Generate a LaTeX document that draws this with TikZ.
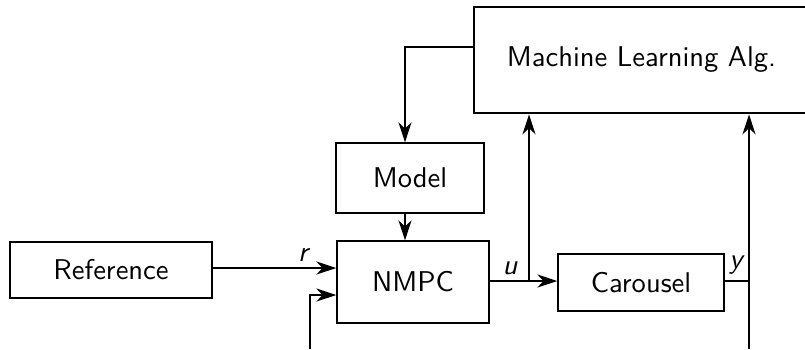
\documentclass[tikz,border=0pt]{standalone}
\usetikzlibrary{arrows.meta}
\renewcommand{\familydefault}{\sfdefault}
\begin{document}
\begin{tikzpicture}[x=0.35pt,y=-0.35pt,
  block/.style={draw,line width=0.5pt,rectangle,inner sep=0pt,font=\sffamily},
  sig/.style={line width=0.5pt,-{Stealth[length=7pt,width=4.6pt,inset=2.2pt]}},
  wire/.style={line width=0.5pt},
  lbl/.style={font=\sffamily\itshape,inner sep=0pt}]
\useasboundingbox (0,0) rectangle (805,349);

% blocks
\node[block,minimum width=202*0.35pt,minimum height=56*0.35pt] (ref) at (111,270) {Reference};
\node[block,minimum width=152*0.35pt,minimum height=82*0.35pt] (nmpc) at (413,282) {NMPC};
\node[block,minimum width=148*0.35pt,minimum height=70*0.35pt] (model) at (410,178) {Model};
\node[block,minimum width=166*0.35pt,minimum height=57*0.35pt] (car) at (641,282.5) {Carousel};
\node[block,line width=1pt,minimum width=340*0.35pt,minimum height=106*0.35pt] (ml) at (644,60) {};
\node[font=\sffamily] (mltext) at (641.5,60) {Machine Learning Alg.};

% junction and free-end points
\coordinate (uj) at (529,281);
\coordinate (yj) at (749,281);
\coordinate (ybot) at (749,349);
\coordinate (fbot) at (310,349);
\coordinate (fcorner) at (310,295);
\coordinate (mlcorner) at (405,47);

% reference to controller
\draw[sig] (ref.east |- 0,268) -- (nmpc.west |- 0,268);
\node[lbl] at (303,255) {r};

% measured feedback into controller
\draw[sig] (fbot) -- (fcorner) -- (nmpc.west |- fcorner);

% model into controller
\draw[sig] (model.south -| 405,0) -- (nmpc.north -| 405,0);

% learning algorithm updates the model
\draw[sig] (ml.west |- mlcorner) -- (mlcorner) -- (model.north -| mlcorner);

% control input u
\draw[sig] (nmpc.east |- uj) -- (car.west |- uj);
\draw[sig] (uj) -- (ml.south -| uj);
\node[lbl] at (510,268) {u};

% output y
\draw[wire] (car.east |- yj) -- (yj);
\draw[sig] (ybot) -- (ml.south -| yj);
\node[lbl] at (736,265) {y};
\end{tikzpicture}
\end{document}
